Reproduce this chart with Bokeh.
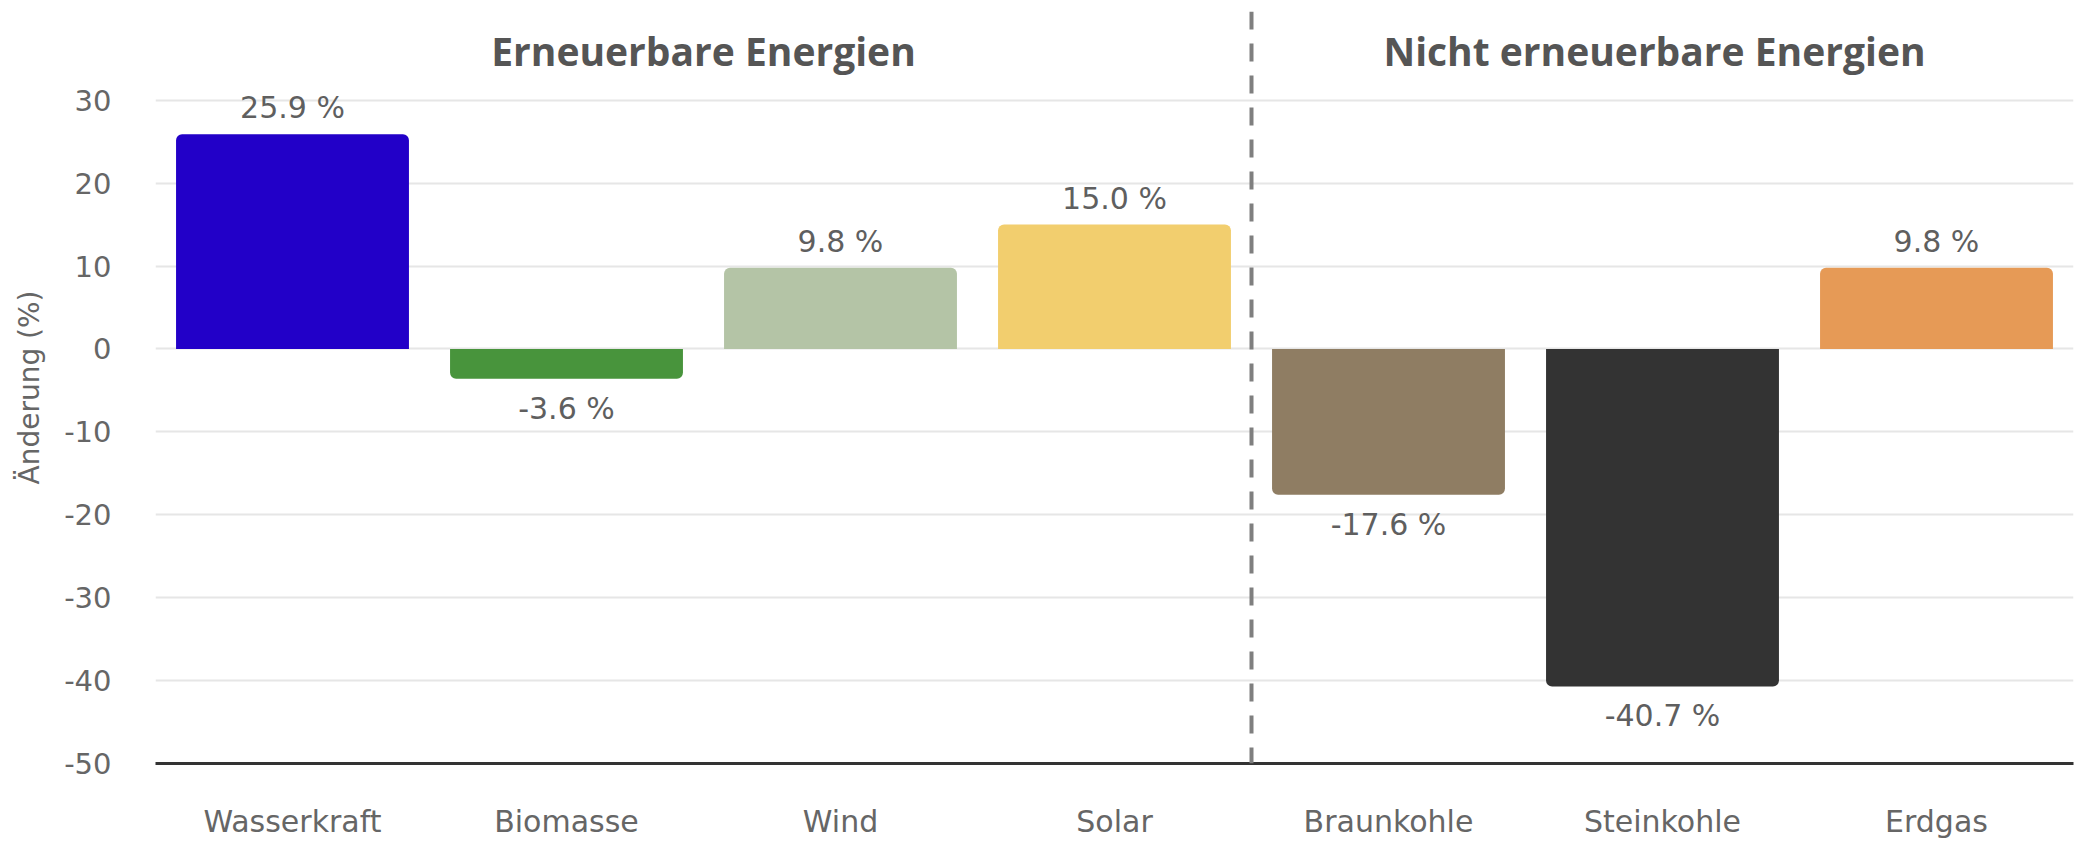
from bokeh.plotting import figure
from bokeh.models import ColumnDataSource, Range1d, FixedTicker, Span
from bokeh.core.properties import value
from bokeh.embed import file_html
from bokeh.resources import INLINE

categories = ["Wasserkraft", "Biomasse", "Wind", "Solar", "Braunkohle", "Steinkohle", "Erdgas"]
changes = [25.9, -3.6, 9.8, 15.0, -17.6, -40.7, 9.8]
colors = ["#2200C8", "#48943C", "#B4C4A6", "#F2CE6E", "#8F7D63", "#333333", "#E69A56"]
y_ticks = [-50, -40, -30, -20, -10, 0, 10, 20, 30]
group_titles = ["Erneuerbare Energien", "Nicht erneuerbare Energien"]
group_sizes = [4, 3]

xs = [i + 0.5 for i in range(len(categories))]
labels = [f"{v:.1f} %" for v in changes]

def subset(pred):
    idx = [i for i, v in enumerate(changes) if pred(v)]
    return ColumnDataSource(dict(
        x=[xs[i] for i in idx],
        v=[changes[i] for i in idx],
        zero=[0] * len(idx),
        color=[colors[i] for i in idx],
        label=[labels[i] for i in idx],
    ))

pos = subset(lambda v: v >= 0)
neg = subset(lambda v: v < 0)

p = figure(width=2082, height=841, output_backend="svg", toolbar_location=None,
           x_range=Range1d(0, len(categories)), y_range=Range1d(-50, 40.7),
           min_border_left=155, min_border_right=9, min_border_top=11, min_border_bottom=72)
p.outline_line_color = None
p.background_fill_color = "white"
p.border_fill_color = "white"

p.vbar(x="x", top="v", bottom="zero", width=0.85, source=pos, fill_color="color",
       line_color=None, border_radius=(6, 6, 0, 0))
p.vbar(x="x", top="zero", bottom="v", width=0.85, source=neg, fill_color="color",
       line_color=None, border_radius=(0, 0, 6, 6))

lab_font = value("DejaVu Sans")
p.text(x="x", y="v", text="label", source=pos, text_align="center", text_baseline="bottom",
       y_offset=-9, text_font=lab_font, text_font_size="30px", text_color="#5f5f5f")
p.text(x="x", y="v", text="label", source=neg, text_align="center", text_baseline="top",
       y_offset=12, text_font=lab_font, text_font_size="30px", text_color="#5f5f5f")

# group titles centered over their categories
centers = []
start = 0
for n in group_sizes:
    centers.append(start + n / 2)
    start += n
p.text(x=centers, y=[36.0] * len(centers), text=group_titles, text_align="center",
       text_baseline="middle", text_font=value("Open Sans"), text_font_style="bold",
       text_font_size="39px", text_color="#555555", x_offset=[0, -8])

p.add_layout(Span(location=group_sizes[0], dimension="height", line_color="#7f7f7f",
                  line_width=4, line_dash="18 14"))

# axes
p.xaxis.ticker = FixedTicker(ticks=xs)
p.xaxis.major_label_overrides = {x: c for x, c in zip(xs, categories)}
p.xaxis.major_tick_line_color = None
p.xaxis.minor_tick_line_color = None
p.xaxis.axis_line_color = "#333333"
p.xaxis.axis_line_width = 3
p.xaxis.major_label_standoff = 34
p.xaxis.major_label_text_font = "DejaVu Sans"
p.xaxis.major_label_text_font_size = "30px"
p.xaxis.major_label_text_color = "#666666"

p.yaxis.ticker = FixedTicker(ticks=y_ticks)
p.yaxis.major_label_overrides = {t: str(t) for t in y_ticks}
p.yaxis.major_tick_line_color = None
p.yaxis.minor_tick_line_color = None
p.yaxis.axis_line_color = None
p.yaxis.major_label_standoff = 38
p.yaxis.major_label_text_font = "DejaVu Sans"
p.yaxis.major_label_text_font_size = "29px"
p.yaxis.major_label_text_color = "#666666"
p.yaxis.axis_label = "Änderung (%)"
p.yaxis.axis_label_text_font = "DejaVu Sans"
p.yaxis.axis_label_text_font_style = "normal"
p.yaxis.axis_label_text_font_size = "28px"
p.yaxis.axis_label_text_color = "#666666"
p.yaxis.axis_label_standoff = 15

p.xgrid.grid_line_color = None
p.ygrid.grid_line_color = "#e6e6e6"
p.ygrid.grid_line_width = 2

open("out.html", "w").write(file_html(p, INLINE))
